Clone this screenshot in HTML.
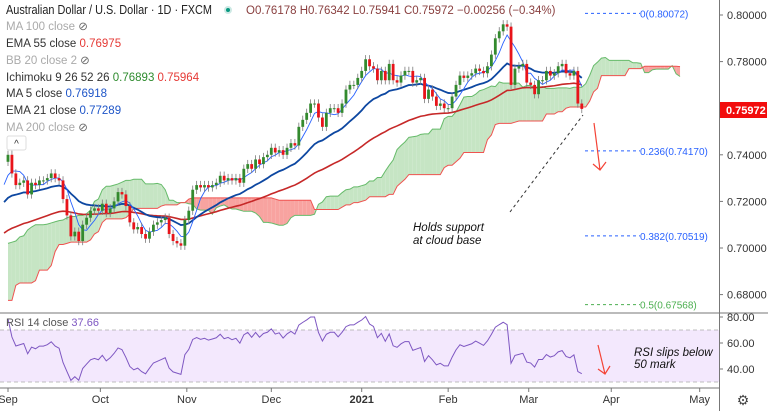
<!DOCTYPE html>
<html><head><meta charset="utf-8"><style>
body{margin:0;background:#fff;}
svg{display:block;font-family:"Liberation Sans",sans-serif;}
</style></head><body>
<svg id="c" width="768" height="411" viewBox="0 0 768 411">
<rect width="768" height="411" fill="#fff"/>
<g id="ichi"></g>
<g id="fib"></g>
<g id="lines"></g>
<g id="candles"></g>
<g id="rsi"></g>
<g id="axes"></g>
<g id="legend" font-size="11.5"></g>
</svg>
<script>
const preCloses=[0.648,0.647,0.650,0.645,0.642,0.655,0.656,0.659,0.655,0.657,0.654,0.664,0.664,0.663,0.667,
0.678,0.690,0.696,0.700,0.701,0.695,0.698,0.692,0.686,0.684,0.691,0.687,0.690,0.687,0.690,0.691,0.689,0.685,0.686,0.689,0.694,0.697,
0.694,0.694,0.696,0.696,0.694,0.696,0.698,0.698,0.700,0.697,0.700,0.699,0.702,0.703,0.710,0.713,0.711,0.712,0.710,0.711,0.714,0.716,0.714,
0.713,0.716,0.718,0.718,0.717,0.718,0.715,0.719,0.716,0.717,0.720,0.721,0.716,0.718,0.717,0.720,0.723,0.727,0.729,0.737];
const closes=[0.7400,0.7320,0.7270,0.7280,0.7290,0.7230,0.7280,0.7270,0.7290,0.7290,0.7300,0.7320,0.7300,0.7290,0.7210,0.7140,0.7050,0.7070,0.7030,0.7100,0.7130,0.7160,
0.7170,0.7160,0.7190,0.7150,0.7170,0.7200,0.7240,0.7230,0.7180,0.7110,0.7080,0.7090,0.7060,0.7040,0.7070,0.7100,0.7110,0.7120,0.7130,0.7060,0.7030,0.7020,
0.7010,0.7120,0.7160,0.7250,0.7270,0.7260,0.7270,0.7260,0.7270,0.7280,0.7310,0.7290,0.7300,0.7290,0.7300,0.7280,0.7340,0.7360,0.7340,0.7380,0.7360,
0.7390,0.7400,0.7430,0.7410,0.7420,0.7400,0.7430,0.7450,0.7440,0.7520,0.7550,0.7580,0.7620,0.7620,0.7560,0.7520,0.7580,0.7600,0.7600,0.7580,0.7620,0.7680,0.7700,
0.7700,0.7730,0.7760,0.7810,0.7780,0.7770,0.7720,0.7760,0.7720,0.7790,0.7720,0.7710,0.7740,0.7760,0.7760,0.7710,0.7720,0.7730,0.7640,0.7680,0.7650,
0.7610,0.7620,0.7600,0.7600,0.7650,0.7700,0.7740,0.7730,0.7740,0.7750,0.7770,0.7760,0.7750,0.7780,0.7830,0.7900,0.7930,0.7960,0.7950,0.7700,
0.7770,0.7780,0.7790,0.7710,0.7700,0.7660,0.7720,0.7720,0.7760,0.7740,0.7750,0.7780,0.7790,0.7750,0.7740,0.7760,0.7620,0.7597];
const fibLevels=[0.80072,0.74170,0.70519,0.67568];
const fibNames=["0(0.80072)","0.236(0.74170)","0.382(0.70519)","0.5(0.67568)"];
const priceTicks=[0.80,0.78,0.74,0.72,0.70,0.68];
const rsiTicks=[80,60,40];
const monthLabels=["Sep","Oct","Nov","Dec","2021","Feb","Mar","Apr","May"];
const monthIdx=[0,23.5,45.5,67,90,112,132.5,153.5,176];

const NS="http://www.w3.org/2000/svg";
function mk(tag,attrs,parent,text){const e=document.createElementNS(NS,tag);for(const k in attrs)e.setAttribute(k,attrs[k]);if(text!==undefined)e.textContent=text;parent.appendChild(e);return e;}
const X0=8,STEP=3.93;
const xOf=i=>X0+i*STEP;
const yOf=p=>15+(0.80-p)*2330;
const yR=v=>317+(80-v)*1.3;
const all=preCloses.concat(closes);const P=preCloses.length;
const opens=all.map((c,i)=>i?all[i-1]:c);
const highs=all.map((c,i)=>Math.max(c,opens[i])+0.0018);
const lows=all.map((c,i)=>Math.min(c,opens[i])-0.0018);
function sma(n){return all.map((_,i)=>{if(i<n-1)return null;let s=0;for(let k=i-n+1;k<=i;k++)s+=all[k];return s/n;});}
function ema(n){const a=2/(n+1);let e=all[0];return all.map(c=>e=e+a*(c-e));}
function mid(i,n){let h=-1,l=9;for(let k=Math.max(0,i-n+1);k<=i;k++){h=Math.max(h,highs[k]);l=Math.min(l,lows[k]);}return (h+l)/2;}
const ich=document.getElementById('ichi');
const spA=[],spB=[];
for(let j=-25;j<closes.length;j++){const g=j+P;spA.push({x:xOf(j+25),v:(mid(g,9)+mid(g,26))/2});spB.push({x:xOf(j+25),v:mid(g,52)});}
const vis=spA.map((a,k)=>({x:a.x,a:a.v,b:spB[k].v})).filter(d=>d.x>=-4);
for(let k=0;k<vis.length-1;k++){const d=vis[k],e=vis[k+1];
 const poly=mk('polygon',{points:`${d.x},${yOf(d.a)} ${e.x},${yOf(e.a)} ${e.x},${yOf(e.b)} ${d.x},${yOf(d.b)}`,fill:((d.a+e.a)>=(d.b+e.b))?'#c6e5c4':'#f8a3a0',stroke:'none'},ich);
 
 }
const la=mk('polyline',{points:vis.map(d=>`${d.x},${yOf(d.a)}`).join(' '),fill:'none',stroke:'#66bb6a','stroke-width':1},ich);

const lb=mk('polyline',{points:vis.map(d=>`${d.x},${yOf(d.b)}`).join(' '),fill:'none',stroke:'#ef5350','stroke-width':1},ich);

const fb=document.getElementById('fib');
fibLevels.forEach((v,i)=>{const y=yOf(v);const col=i==3?'#4caf50':'#2962ff';
 const l=mk('line',{x1:585,x2:640,y1:y,y2:y,stroke:col,'stroke-dasharray':'3,3','stroke-width':1},fb);
 
 const t=mk('text',{x:640,y:y+4,fill:col,'font-size':10},fb,fibNames[i]);
 });
const ln=document.getElementById('lines');
function drawLine(arr,col,w,name){const pts=[];arr.forEach((v,g)=>{const j=g-P;if(j>=-1&&v!=null)pts.push(`${xOf(j)},${yOf(v)}`);});
 const l=mk('polyline',{points:pts.join(' '),fill:'none',stroke:col,'stroke-width':w},ln);
 }
drawLine(ema(55),'#c62828',1.6,'ema55-line');
drawLine(ema(21),'#0d47a1',1.8,'ema21-line');
drawLine(sma(5),'#2962ff',0.9,'ma5-line');
const cg=document.getElementById('candles');
closes.forEach((c,j)=>{const g=j+P,x=xOf(j),o=opens[g],up=c>=o;
 const w=mk('line',{x1:x,x2:x,y1:yOf(highs[g]),y2:yOf(lows[g]),stroke:'#7a7a7a','stroke-width':0.8},cg);
 
 const y1=yOf(Math.max(o,c)),y2=yOf(Math.min(o,c));
 const b=mk('rect',{x:x-1.4,y:y1,width:2.8,height:Math.max(1,y2-y1),fill:up?'#338a2e':'#e8141a'},cg);
 });
const an=mk('g',{},cg);
const dl=mk('line',{x1:510,y1:212,x2:583,y2:115,stroke:'#333','stroke-dasharray':'3,3','stroke-width':1},an);

const ar=mk('path',{d:'M594,123 L600,170 M593,164 L600,170 L606,162',stroke:'#f44336','stroke-width':1.2,fill:'none'},an);

const t1=mk('text',{x:413,y:231,'font-size':11.5,'font-style':'italic',fill:'#111'},an,'Holds support');

const t2=mk('text',{x:413,y:244,'font-size':11.5,'font-style':'italic',fill:'#111'},an,'at cloud base');

const rg=document.getElementById('rsi');
const band=mk('rect',{x:0,y:yR(70),width:719,height:yR(30)-yR(70),fill:'#f3e8fd'},rg);

[70,30].forEach(v=>{const l=mk('line',{x1:0,x2:719,y1:yR(v),y2:yR(v),stroke:'#aaa','stroke-dasharray':'4,3','stroke-width':0.8},rg);
 });
let ag=0,al=0;const rsi=[];
for(let i=1;i<all.length;i++){const d=all[i]-all[i-1];const gn=Math.max(d,0),ls=Math.max(-d,0);
 if(i<=14){ag+=gn/14;al+=ls/14;}else{ag=(ag*13+gn)/14;al=(al*13+ls)/14;}
 rsi[i]=al===0?100:100-100/(1+ag/al);}
const rp=[];closes.forEach((_,j)=>{rp.push(`${xOf(j)},${yR(rsi[j+P])}`);});
const rl=mk('polyline',{points:rp.join(' '),fill:'none',stroke:'#7e57c2','stroke-width':1},rg);

const ra=mk('path',{d:'M598,345 L605,374 M598,369 L605,374 L610,366',stroke:'#f44336','stroke-width':1.2,fill:'none'},rg);

const r1=mk('text',{x:634,y:356,'font-size':11.5,'font-style':'italic',fill:'#111'},rg,'RSI slips below');

const r2=mk('text',{x:634,y:368,'font-size':11.5,'font-style':'italic',fill:'#111'},rg,'50 mark');

const rt=mk('text',{x:6,y:326,'font-size':11,fill:'#555'},rg,'RSI 14 close ');

mk('tspan',{fill:'#7e57c2'},rt,'37.66');
const ax=document.getElementById('axes');
const sep=mk('line',{x1:0,x2:768,y1:313,y2:313,stroke:'#777','stroke-width':1},ax);

const va=mk('line',{x1:719.5,x2:719.5,y1:0,y2:411,stroke:'#777','stroke-width':1},ax);

const ha=mk('line',{x1:0,x2:719,y1:388,y2:388,stroke:'#777','stroke-width':1},ax);

priceTicks.forEach(v=>{const y=yOf(v);
 mk('line',{x1:719,x2:723,y1:y,y2:y,stroke:'#777'},ax);
 const t=mk('text',{x:727,y:y+4,'font-size':11,fill:'#333'},ax,v.toFixed(5));
 });
rsiTicks.forEach(v=>{const y=yR(v);
 mk('line',{x1:719,x2:723,y1:y,y2:y,stroke:'#777'},ax);
 const t=mk('text',{x:727,y:y+4,'font-size':11,fill:'#333'},ax,v.toFixed(2));
 });
monthLabels.forEach((m,i)=>{const x=xOf(monthIdx[i]);
 mk('line',{x1:x,x2:x,y1:388,y2:392,stroke:'#777'},ax);
 const t=mk('text',{x:x,y:403,'font-size':11,fill:'#333','text-anchor':'middle','font-weight':m==='2021'?'bold':'normal'},ax,m);
 });
const pb=mk('rect',{x:720,y:102,width:47,height:16,fill:'#f20d0d'},ax);

const pt=mk('text',{x:726,y:114,'font-size':11,'font-weight':'bold',fill:'#fff'},ax,'0.75972');

const gear=mk('text',{x:743,y:405,'font-size':14,fill:'#444','text-anchor':'middle'},ax,'⚙');

const lg=document.getElementById('legend');
const title=mk('text',{x:6,y:14,'font-size':12.5,fill:'#222',textLength:206,lengthAdjust:'spacingAndGlyphs'},lg,'Australian Dollar / U.S. Dollar · 1D · FXCM');

const dot=mk('circle',{cx:228,cy:10,r:3,fill:'#089981',stroke:'#cde9e4','stroke-width':2},lg);

const ohlc=mk('text',{x:246,y:14,'font-size':11.5,fill:'#8a4040'},lg,'O0.76178 H0.76342 L0.75941 C0.75972 −0.00256 (−0.34%)');

const rows=[["MA 100 close","",""],["EMA 55 close","0.76975","#e53935"],["BB 20 close 2","",""],["Ichimoku 9 26 52 26","",""],["MA 5 close","0.76918","#1e55c8"],["EMA 21 close","0.77289","#1e55c8"],["MA 200 close","",""]];
const ys=[30,47,64,81,97,114,131];
rows.forEach((r,i)=>{const hidden=(r[1]===""&&i!==3);
 const t=mk('text',{x:6,y:ys[i],fill:hidden?'#aaa':'#333'},lg,r[0]+' ');
 
 if(i===3){mk('tspan',{fill:'#2e8b2e'},t,'0.76893 ');mk('tspan',{fill:'#e53935'},t,'0.75964');}
 else if(r[1])mk('tspan',{fill:r[2]},t,r[1]);
 else mk('tspan',{fill:'#666'},t,'⊘');});
const cb=mk('rect',{x:7,y:136,width:19,height:14,rx:2,fill:'#fff',stroke:'#ddd'},lg);

mk('text',{x:16.5,y:147,'font-size':10,'text-anchor':'middle',fill:'#333'},lg,'^');
</script>
</body></html>
